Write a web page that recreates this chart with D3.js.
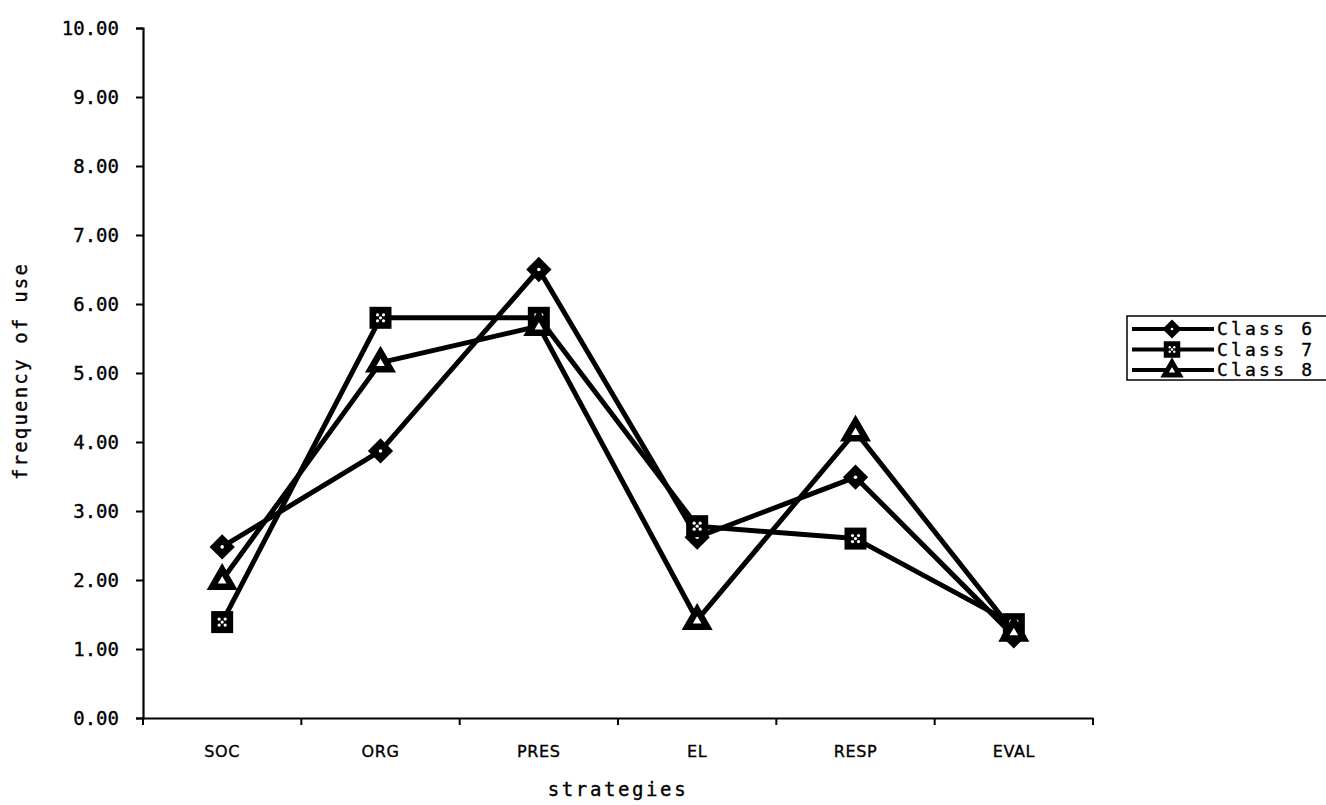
<!DOCTYPE html>
<html>
<head>
<meta charset="utf-8">
<script src="https://cdn.jsdelivr.net/npm/d3@7/dist/d3.min.js"></script>
<style>
  body { margin: 0; background: #fff; }
  svg text { font-family: 'DejaVu Sans Mono', monospace; fill: #000; stroke: #000; stroke-width: 0.35px; }
</style>
</head>
<body>
<div id="chart"></div>
<script>
const strategies = ['SOC', 'ORG', 'PRES', 'EL', 'RESP', 'EVAL']
const class6 = [2.48, 3.87, 6.5, 2.62, 3.49, 1.19]
const class7 = [1.39, 5.8, 5.8, 2.78, 2.6, 1.36]
const class8 = [2.0, 5.15, 5.68, 1.42, 4.15, 1.25]
const yTicks = [0, 1, 2, 3, 4, 5, 6, 7, 8, 9, 10]

const series = [
  {name: 'Class 6', values: class6, marker: 'diamond'},
  {name: 'Class 7', values: class7, marker: 'square'},
  {name: 'Class 8', values: class8, marker: 'triangle'}
]

const width = 1326
const height = 805
const margin = {left: 143, right: 233, top: 28, bottom: 87}

const svg = d3.select('#chart').append('svg')
  .attr('width', width)
  .attr('height', height)

const x = d3.scaleBand()
  .domain(strategies)
  .range([margin.left, width - margin.right])

const y = d3.scaleLinear()
  .domain([0, 10])
  .range([height - margin.bottom, margin.top])

// axes
const yAxis = svg.append('g')
  .attr('transform', 'translate(' + margin.left + ',0)')
  .call(d3.axisLeft(y).tickValues(yTicks).tickFormat(d3.format('.2f')).tickSize(7).tickPadding(17))
yAxis.selectAll('text').attr('font-size', 19).style('letter-spacing', '0px')

const xAxis = svg.append('g')
  .attr('transform', 'translate(0,' + y(0) + ')')
  .call(d3.axisBottom(x).tickSize(0).tickPadding(28))
xAxis.selectAll('text')
  .attr('font-size', 16)
  .style('font-family', "'DejaVu Sans', sans-serif")
  .style('letter-spacing', '0.6px')

// tick marks between categories
const bounds = strategies.map(d => x(d)).concat([x(strategies[strategies.length - 1]) + x.bandwidth()])
xAxis.selectAll('line.sep')
  .data(bounds)
  .enter().append('line')
  .attr('class', 'sep')
  .attr('x1', d => d).attr('x2', d => d)
  .attr('y1', 0).attr('y2', 7)
  .attr('stroke', '#000').attr('stroke-width', 2)

svg.selectAll('.domain').attr('stroke', '#000').attr('stroke-width', 2.2)
yAxis.selectAll('.tick line').attr('stroke-width', 2)

// axis titles
svg.append('text')
  .attr('x', (margin.left + width - margin.right) / 2)
  .attr('y', 796)
  .attr('text-anchor', 'middle')
  .attr('font-size', 19)
  .style('letter-spacing', '2.6px')
  .text('strategies')

svg.append('text')
  .attr('transform', 'translate(27,' + (y(5) - 2) + ') rotate(-90)')
  .attr('text-anchor', 'middle')
  .attr('font-size', 19)
  .style('letter-spacing', '2.2px')
  .text('frequency of use')

const cx = i => x(strategies[i]) + x.bandwidth() / 2

function drawMarker (g, type, px, py) {
  if (type === 'diamond') {
    g.append('path')
      .attr('d', d3.symbol(d3.symbolSquare, 320)())
      .attr('transform', 'translate(' + px + ',' + py + ') rotate(45)')
      .attr('fill', '#000')
    g.append('circle').attr('cx', px).attr('cy', py).attr('r', 1.8).attr('fill', '#fff')
  } else if (type === 'square') {
    g.append('rect')
      .attr('x', px - 11).attr('y', py - 11).attr('width', 22).attr('height', 22)
      .attr('fill', '#000')
    ;[[-3, -3], [3, -3], [0, 0], [-3, 3], [3, 3]].forEach(o => {
      g.append('circle')
        .attr('cx', px + o[0]).attr('cy', py + o[1]).attr('r', 1.6)
        .attr('fill', '#fff')
    })
  } else {
    g.append('path')
      .attr('d', d3.symbol(d3.symbolTriangle, 170)())
      .attr('transform', 'translate(' + px + ',' + (py + 1) + ')')
      .attr('fill', '#fff')
      .attr('stroke', '#000')
      .attr('stroke-width', 6.5)
      .attr('stroke-linejoin', 'miter')
  }
}

const line = d3.line()
  .x((d, i) => cx(i))
  .y(d => y(d))

const plot = svg.append('g')
series.forEach(s => {
  plot.append('path')
    .datum(s.values)
    .attr('d', line)
    .attr('fill', 'none')
    .attr('stroke', '#000')
    .attr('stroke-width', 5)
    .attr('stroke-linejoin', 'round')
})
series.forEach(s => {
  const g = plot.append('g')
  s.values.forEach((v, i) => drawMarker(g, s.marker, cx(i), y(v)))
})

// legend
const legend = svg.append('g')
legend.append('rect')
  .attr('x', 1127).attr('y', 316)
  .attr('width', 220).attr('height', 64)
  .attr('fill', '#fff')
  .attr('stroke', '#000')
  .attr('stroke-width', 1.5)

series.forEach((s, i) => {
  const ly = 329 + i * 20.5
  legend.append('line')
    .attr('x1', 1132).attr('x2', 1214)
    .attr('y1', ly).attr('y2', ly)
    .attr('stroke', '#000').attr('stroke-width', 4)
  const m = legend.append('g')
    .attr('transform', 'translate(1172,' + ly + ') scale(0.75) translate(-1172,' + (-ly) + ')')
  drawMarker(m, s.marker, 1172, ly)
  legend.append('text')
    .attr('x', 1217).attr('y', ly)
    .attr('dy', '0.35em')
    .attr('font-size', 18)
    .style('letter-spacing', '3.2px')
    .text(s.name)
})
</script>
</body>
</html>
